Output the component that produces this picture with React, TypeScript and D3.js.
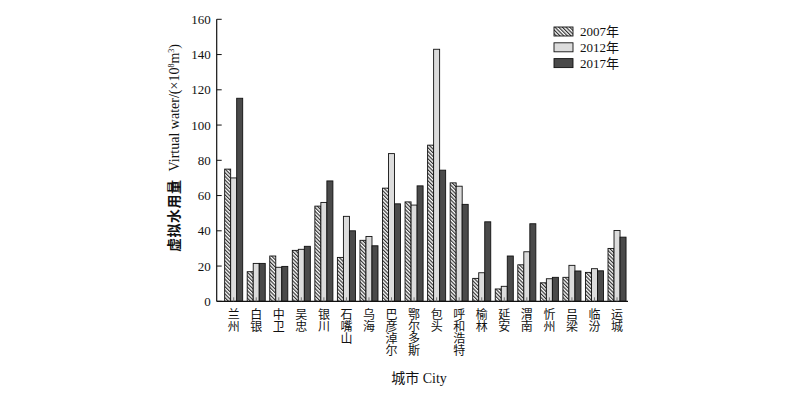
import * as d3 from "d3";
import { useEffect, useRef } from "react";

const cities = [
  "兰州", "白银", "中卫", "吴忠", "银川", "石嘴山", "乌海", "巴彦淖尔", "鄂尔多斯",
  "包头", "呼和浩特", "榆林", "延安", "渭南", "忻州", "吕梁", "临汾", "运城",
];
const years = ["2007年", "2012年", "2017年"];
const v2007 = [75, 16.8, 25.7, 28.9, 54, 24.9, 34.6, 64.2, 56.4, 88.6, 67.2, 13, 7, 20.7, 10.5, 13.6, 16.4, 30];
const v2012 = [70, 21.5, 19.3, 29.5, 56.1, 48.2, 36.8, 83.8, 54.6, 143, 65.3, 16.2, 8.5, 28.1, 12.8, 20.4, 18.5, 40.2];
const v2017 = [115.2, 21.5, 19.8, 31.2, 68.3, 40, 31.5, 55.3, 65.5, 74.4, 55, 45.1, 25.7, 44, 13.6, 17.2, 17.3, 36.4];
const yTicks = [0, 20, 40, 60, 80, 100, 120, 140, 160];

const SERIF = "'Liberation Serif', 'Noto Sans CJK SC', serif";

export default function App() {
  const svgRef = useRef<SVGSVGElement | null>(null);

  useEffect(() => {
    if (!svgRef.current) return;
    const svg = d3.select(svgRef.current);
    svg.selectAll("*").remove();

    const axisX0 = 216.7;
    const axisX1 = 628;
    const x = d3.scaleBand<string>().domain(cities).range([222.4, 628.3]).paddingInner(0.2).paddingOuter(0.1);
    const xi = d3.scaleBand<string>().domain(years).range([0, x.bandwidth()]);
    const y = d3.scaleLinear().domain([0, 160]).range([301.3, 19.3]);

    const defs = svg.append("defs");
    const pat = defs
      .append("pattern")
      .attr("id", "hatch")
      .attr("patternUnits", "userSpaceOnUse")
      .attr("width", 2.6)
      .attr("height", 2.6)
      .attr("patternTransform", "rotate(-45)");
    pat.append("rect").attr("width", 2.6).attr("height", 2.6).attr("fill", "#fff");
    pat.append("rect").attr("width", 1.2).attr("height", 2.6).attr("fill", "#333");

    const fills = ["url(#hatch)", "#dcdcdc", "#4a4a4a"];
    const series = [v2007, v2012, v2017];

    series.forEach((vals, s) => {
      svg
        .append("g")
        .selectAll("rect")
        .data(vals)
        .join("rect")
        .attr("x", (d, i) => x(cities[i])! + xi(years[s])!)
        .attr("y", (d) => y(d))
        .attr("width", xi.bandwidth())
        .attr("height", (d) => y(0) - y(d))
        .attr("fill", fills[s])
        .attr("stroke", "#111")
        .attr("stroke-width", 0.9);
    });

    // x axis with inward ticks at group centres
    const gx = svg.append("g").attr("transform", `translate(0,${y(0)})`);
    gx.append("line")
      .attr("x1", axisX0)
      .attr("x2", axisX1)
      .attr("stroke", "#111")
      .attr("stroke-width", 1.2);
    gx.selectAll("line.tk")
      .data(cities)
      .join("line")
      .attr("class", "tk")
      .attr("x1", (d) => x(d)! + x.bandwidth() / 2)
      .attr("x2", (d) => x(d)! + x.bandwidth() / 2)
      .attr("y1", 0)
      .attr("y2", -4)
      .attr("stroke", "#777")
      .attr("stroke-width", 1);

    // vertical category labels
    svg
      .append("g")
      .selectAll("text")
      .data(cities)
      .join("text")
      .attr("x", (d) => x(d)! + x.bandwidth() / 2 - 1.5)
      .attr("y", 308)
      .attr("font-family", SERIF)
      .attr("font-size", 12)
      .attr("fill", "#111")
      .style("writing-mode", "vertical-rl")
      .style("text-orientation", "upright")
      .text((d) => d);

    // y axis
    const gy = svg.append("g").attr("transform", `translate(${axisX0},0)`);
    gy.append("line").attr("y1", y(0)).attr("y2", y(160)).attr("stroke", "#111").attr("stroke-width", 1.2);
    gy.selectAll("line.tk")
      .data(yTicks)
      .join("line")
      .attr("class", "tk")
      .attr("x1", 0)
      .attr("x2", 5)
      .attr("y1", (d) => y(d))
      .attr("y2", (d) => y(d))
      .attr("stroke", "#111");
    gy.selectAll("text")
      .data(yTicks)
      .join("text")
      .attr("x", -6)
      .attr("y", (d) => y(d))
      .attr("dy", "0.35em")
      .attr("text-anchor", "end")
      .attr("font-family", SERIF)
      .attr("font-size", 13)
      .attr("fill", "#111")
      .text((d) => d);

    // y title
    const yt = svg
      .append("text")
      .attr("transform", `translate(179,${148}) rotate(-90)`)
      .attr("text-anchor", "middle")
      .attr("font-family", SERIF)
      .attr("font-size", 14)
      .attr("fill", "#111");
    yt.append("tspan").attr("font-weight", "bold").attr("letter-spacing", 0.5).text("虚拟水用量");
    yt.append("tspan").attr("dx", 8).text("Virtual water/(×10");
    yt.append("tspan").attr("font-size", 8).attr("dy", -5).text("8");
    yt.append("tspan").attr("dy", 5).text("m");
    yt.append("tspan").attr("font-size", 8).attr("dy", -5).text("3");
    yt.append("tspan").attr("dy", 5).text(")");

    // x title
    svg
      .append("text")
      .attr("x", 419)
      .attr("y", 383)
      .attr("text-anchor", "middle")
      .attr("font-family", SERIF)
      .attr("font-size", 14)
      .attr("fill", "#111")
      .text("城市 City");

    // legend
    const lg = svg
      .append("g")
      .selectAll("g")
      .data(years)
      .join("g")
      .attr("transform", (d, i) => `translate(554,${27 + i * 15.8})`);
    lg.append("rect")
      .attr("width", 19)
      .attr("height", 9)
      .attr("fill", (d, i) => fills[i])
      .attr("stroke", "#111")
      .attr("stroke-width", 0.9);
    lg.append("text")
      .attr("x", 26)
      .attr("y", 4.5)
      .attr("dy", "0.35em")
      .attr("font-family", SERIF)
      .attr("font-size", 13)
      .attr("fill", "#111")
      .text((d) => d);
  }, []);

  return (
    <svg
      ref={svgRef}
      width={800}
      height={395}
      style={{ position: "absolute", left: 0, top: 0, background: "#fff" }}
    />
  );
}
